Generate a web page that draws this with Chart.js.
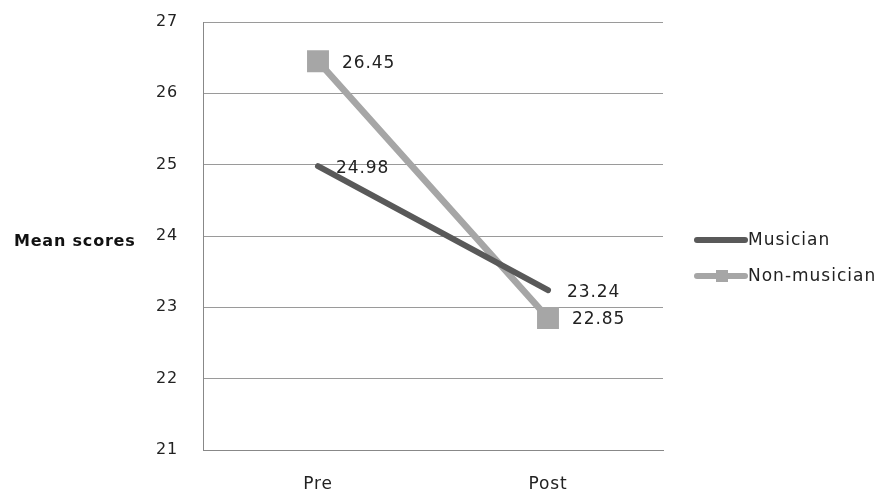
<!DOCTYPE html>
<html>
<head>
<meta charset="utf-8">
<script src="https://cdn.jsdelivr.net/npm/chart.js@4/dist/chart.umd.min.js"></script>
<style>
  html, body { margin: 0; padding: 0; background: #fff; }
  #wrap { width: 885px; height: 492px; }
</style>
</head>
<body>
<div id="wrap"><canvas id="c" width="885" height="492"></canvas></div>
<script>
// Categories and series
const categories = ['Pre', 'Post'];
const musician = [24.98, 23.24];
const nonMusician = [26.45, 22.85];
const yTicks = [21, 22, 23, 24, 25, 26, 27];
const seriesNames = ['Musician', 'Non-musician'];
const axisTitle = 'Mean scores';

const FONT = '"DejaVu Sans", "Liberation Sans", sans-serif';
const DARK = '#595959';
const LIGHT = '#a6a6a6';
const GRID = '#9a9a9a';
const AXIS = '#888888';

// Slightly open letter spacing for all canvas text
const spacing = {
  id: 'spacing',
  beforeDraw(chart) { chart.ctx.letterSpacing = '0.8px'; }
};

// Value labels to the right of each point
const valueLabels = {
  id: 'valueLabels',
  afterDatasetsDraw(chart) {
    const ctx = chart.ctx;
    ctx.save();
    ctx.letterSpacing = '0.9px';
    ctx.font = '17px ' + FONT;
    ctx.fillStyle = '#222';
    ctx.textBaseline = 'middle';
    ctx.textAlign = 'left';
    const offsets = [[18, 19], [24, 24]];
    chart.data.datasets.forEach((ds, di) => {
      const meta = chart.getDatasetMeta(di);
      meta.data.forEach((pt, i) => {
        ctx.fillText(ds.data[i].toFixed(2), pt.x + offsets[di][i], pt.y + 2);
      });
    });
    ctx.restore();
  }
};

// Horizontal axis title and legend at the right
const extras = {
  id: 'extras',
  afterDraw(chart) {
    const ctx = chart.ctx;
    const a = chart.chartArea;
    const midY = (a.top + a.bottom) / 2;
    ctx.save();
    ctx.letterSpacing = '0.8px';
    ctx.font = 'bold 16px ' + FONT;
    ctx.fillStyle = '#111';
    ctx.textBaseline = 'middle';
    ctx.textAlign = 'left';
    ctx.fillText(axisTitle, 14, midY + 6);

    const lx = a.right + 34;
    const rows = [midY + 4, midY + 40];
    const colors = [DARK, LIGHT];
    ctx.letterSpacing = '1px';
    ctx.font = '17px ' + FONT;
    seriesNames.forEach((name, i) => {
      const y = rows[i];
      ctx.strokeStyle = colors[i];
      ctx.lineWidth = 6;
      ctx.lineCap = 'round';
      ctx.beginPath();
      ctx.moveTo(lx, y);
      ctx.lineTo(lx + 48, y);
      ctx.stroke();
      if (i === 1) {
        ctx.fillStyle = colors[i];
        ctx.fillRect(lx + 19, y - 6, 12, 12);
      }
      ctx.fillStyle = '#222';
      ctx.fillText(name, lx + 51, y + 1);
    });
    ctx.restore();
  }
};

new Chart(document.getElementById('c'), {
  type: 'line',
  data: {
    labels: categories,
    datasets: [
      {
        label: seriesNames[0],
        data: musician,
        borderColor: DARK,
        backgroundColor: DARK,
        borderWidth: 6,
        borderCapStyle: 'round',
        pointRadius: 0,
        pointHoverRadius: 0,
        tension: 0
      },
      {
        label: seriesNames[1],
        data: nonMusician,
        borderColor: LIGHT,
        backgroundColor: LIGHT,
        borderWidth: 6.5,
        borderCapStyle: 'round',
        pointStyle: 'rect',
        pointRadius: 15.5,
        pointBorderWidth: 0,
        pointBackgroundColor: LIGHT,
        tension: 0
      }
    ]
  },
  options: {
    responsive: false,
    animation: false,
    events: [],
    layout: { padding: { left: 0, top: 22, right: 222, bottom: 0 } },
    plugins: {
      legend: { display: false },
      tooltip: { enabled: false }
    },
    scales: {
      x: {
        offset: true,
        grid: { display: false, drawTicks: false },
        border: { display: true, color: AXIS, width: 1 },
        ticks: { padding: 24, color: '#222', font: { family: FONT, size: 17 } },
        afterFit(s) { s.height = 42; s.paddingLeft = 0; s.paddingRight = 0; }
      },
      y: {
        min: 21,
        max: 27,
        afterBuildTicks(s) { s.ticks = yTicks.map(v => ({ value: v })); },
        grid: { color: GRID, lineWidth: 1, drawTicks: false },
        border: { display: true, color: AXIS, width: 1 },
        ticks: { padding: 25, color: '#222', font: { family: FONT, size: 16 } },
        afterFit(s) { s.width = 203; s.paddingTop = 0; s.paddingBottom = 0; }
      }
    }
  },
  plugins: [spacing, valueLabels, extras]
});
</script>
</body>
</html>
